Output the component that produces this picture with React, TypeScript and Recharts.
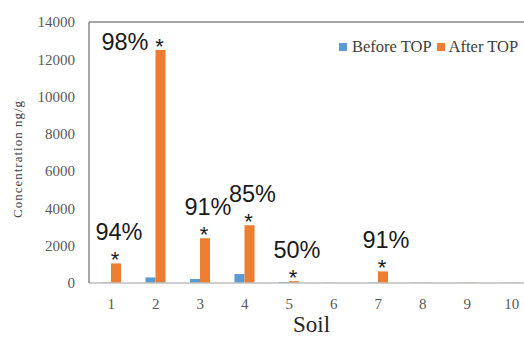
import React from 'react'
import { Bar, BarChart, LabelList, ReferenceLine, XAxis, YAxis } from 'recharts'

const soils = ['1', '2', '3', '4', '5', '6', '7', '8', '9', '10']
const beforeTop = [30, 300, 215, 480, 50, 10, 30, 15, 15, 15]
const afterTop = [1050, 12500, 2400, 3100, 100, 0, 620, 20, 20, 20]
const removal = ['94%', '98%', '91%', '85%', '50%', '', '91%', '', '', '']
const yTicks = [0, 2000, 4000, 6000, 8000, 10000, 12000, 14000]

const data = soils.map((soil, i) => ({
  soil,
  before: beforeTop[i],
  after: afterTop[i],
  pct: removal[i],
}))

const SERIF = '"Liberation Serif", "Times New Roman", serif'
const SANS = '"Liberation Sans", Arial, sans-serif'
const BLUE = '#5B9BD5'
const ORANGE = '#ED7D31'

const PctLabel = (props: any) => {
  const { x, y, width, value } = props
  if (!value) return null
  const cx = x + width / 2
  // bars that reach near the top get their label on the left of the star
  if (y < 80) {
    return (
      <g fontFamily={SANS} fill="#1a1a1a">
        <text x={cx - 12} y={y} fontSize={23.5} textAnchor="end">{value}</text>
        <text x={cx - 1} y={y + 4} fontSize={22} textAnchor="middle">*</text>
      </g>
    )
  }
  return (
    <g fontFamily={SANS} fill="#1a1a1a">
      <text x={cx + 3} y={y - 23} fontSize={23.5} textAnchor="middle">{value}</text>
      <text x={cx - 1} y={y + 4} fontSize={22} textAnchor="middle">*</text>
    </g>
  )
}

const LegendBox = () => (
  <div
    style={{
      position: 'absolute',
      left: 339,
      top: 38,
      display: 'flex',
      alignItems: 'center',
      fontFamily: SERIF,
      fontSize: 16.5,
      lineHeight: '18px',
      color: '#404040',
      whiteSpace: 'nowrap',
    }}
  >
    <span style={{ width: 8, height: 8, background: BLUE, display: 'inline-block', marginRight: 5 }} />
    <span style={{ marginRight: 5 }}>Before TOP</span>
    <span style={{ width: 8, height: 8, background: ORANGE, display: 'inline-block', marginRight: 4 }} />
    <span>After TOP</span>
  </div>
)

export default function App() {
  return (
    <div style={{ position: 'absolute', left: 0, top: 0, width: 524, height: 338, overflow: 'hidden', background: '#fff' }}>
      <BarChart
        width={560}
        height={338}
        data={data}
        margin={{ top: 22, right: 26, left: 19, bottom: 25 }}
        barGap={0}
      >
        <XAxis
          dataKey="soil"
          axisLine={{ stroke: '#bfbfbf', strokeWidth: 1.5 }}
          tickLine={false}
          tickSize={0}
          tickMargin={15}
          height={30}
          tick={{ fontFamily: SERIF, fontSize: 15, fill: '#595959' }}
          label={(p: any) => (
            <text x={p.viewBox.x + p.viewBox.width / 2} y={332} textAnchor="middle" fontFamily={SERIF} fontSize={23} fill="#262626">
              Soil
            </text>
          )}
        />
        <YAxis
          domain={[0, 14000]}
          ticks={yTicks}
          width={70}
          axisLine={{ stroke: '#888888', strokeWidth: 1.5 }}
          tickLine={false}
          tickSize={0}
          tickMargin={14}
          tick={{ fontFamily: SERIF, fontSize: 15, fill: '#595959' }}
          label={() => (
            <text
              x={17}
              y={159}
              transform="rotate(-90 17 159)"
              textAnchor="middle"
              dominantBaseline="central"
              fontFamily={SERIF}
              fontSize={13}
              letterSpacing={1}
              fill="#404040"
            >
              Concentration ng/g
            </text>
          )}
        />
        <ReferenceLine y={14000} stroke="#888888" strokeWidth={1.5} />
        <Bar dataKey="before" name="Before TOP" fill={BLUE} barSize={10} isAnimationActive={false} />
        <Bar dataKey="after" name="After TOP" fill={ORANGE} barSize={10} isAnimationActive={false}>
          <LabelList dataKey="pct" content={PctLabel} />
        </Bar>
      </BarChart>
      <LegendBox />
    </div>
  )
}
